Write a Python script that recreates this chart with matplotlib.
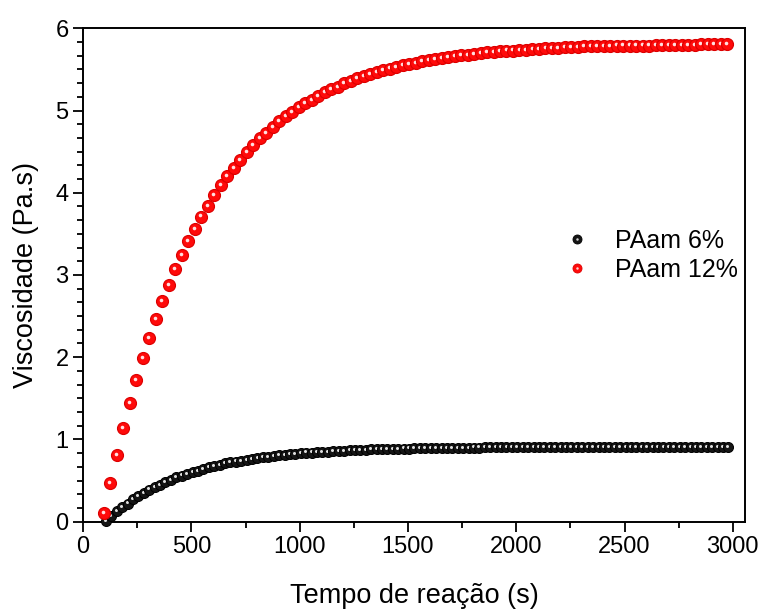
import matplotlib.pyplot as plt
import matplotlib.transforms as mtransforms
from matplotlib.lines import Line2D
from matplotlib.legend_handler import HandlerTuple
from matplotlib.ticker import AutoMinorLocator, MultipleLocator

plt.rcParams['font.family'] = ['Liberation Sans', 'DejaVu Sans']

# PAam 12% : one reading every 30 s
t_12 = [95 + 30 * i for i in range(97)]
v_12 = [0.10, 0.47, 0.81, 1.14, 1.44, 1.72, 1.99, 2.23, 2.46, 2.68,
        2.88, 3.07, 3.24, 3.41, 3.56, 3.71, 3.84, 3.97, 4.09, 4.20,
        4.30, 4.40, 4.49, 4.58, 4.66, 4.73, 4.80, 4.87, 4.93, 4.98,
        5.04, 5.09, 5.13, 5.18, 5.22, 5.26, 5.29, 5.33, 5.36, 5.39,
        5.42, 5.44, 5.47, 5.49, 5.51, 5.53, 5.55, 5.57, 5.58, 5.60,
        5.61, 5.63, 5.64, 5.65, 5.66, 5.67, 5.68, 5.69, 5.70, 5.71,
        5.71, 5.72, 5.73, 5.73, 5.74, 5.74, 5.75, 5.75, 5.76, 5.76,
        5.76, 5.77, 5.77, 5.77, 5.78, 5.78, 5.78, 5.78, 5.78, 5.79,
        5.79, 5.79, 5.79, 5.79, 5.79, 5.80, 5.80, 5.80, 5.80, 5.80,
        5.80, 5.80, 5.81, 5.81, 5.81, 5.81, 5.81]

# PAam 6% : one reading every 25 s
t_6 = [105 + 25 * j for j in range(116)]
v_6 = [0.01, 0.07, 0.13, 0.18, 0.22, 0.27, 0.31, 0.35, 0.39, 0.42,
       0.45, 0.48, 0.51, 0.54, 0.56, 0.58, 0.60, 0.62, 0.64, 0.66,
       0.68, 0.69, 0.71, 0.72, 0.73, 0.74, 0.75, 0.76, 0.77, 0.78,
       0.79, 0.80, 0.81, 0.81, 0.82, 0.82, 0.83, 0.84, 0.84, 0.85,
       0.85, 0.85, 0.86, 0.86, 0.86, 0.87, 0.87, 0.87, 0.87, 0.88,
       0.88, 0.881, 0.883, 0.885, 0.886, 0.888, 0.889, 0.891, 0.892, 0.893,
       0.894, 0.895, 0.896, 0.897, 0.898, 0.899, 0.899, 0.900, 0.901, 0.901,
       0.902, 0.903, 0.903, 0.904, 0.904, 0.905, 0.905, 0.906, 0.906, 0.906,
       0.907, 0.907, 0.907, 0.908, 0.908, 0.908, 0.908, 0.908, 0.909, 0.909,
       0.909, 0.909, 0.909, 0.909, 0.909, 0.909, 0.909, 0.909, 0.909, 0.909,
       0.91, 0.91, 0.91, 0.91, 0.91, 0.91, 0.91, 0.91, 0.91, 0.91,
       0.91, 0.91, 0.91, 0.91, 0.91, 0.91]

labels = ['PAam 6%', 'PAam 12%']


def balls(ax, x, y, color, shade, light, size):
    # shaded sphere look, drawn ball by ball so later ones sit on earlier ones
    off = mtransforms.offset_copy(ax.transData, fig=ax.figure, x=-0.7, y=0.8, units='points')
    for xi, yi in zip(x, y):
        ax.plot(xi, yi, 'o', ms=size, mfc=color, mec=shade, mew=size * 0.1,
                zorder=3, clip_on=False)
        ax.plot(xi, yi, 'o', ms=size * 0.3, mfc=light, mec='none',
                zorder=3, transform=off, clip_on=False)


fig = plt.figure(figsize=(7.63, 6.09), dpi=100)
ax = fig.add_axes([0.109, 0.1435, 0.867, 0.81])

balls(ax, t_6, v_6, '#151515', '#000000', '#e0e0e0', 7.2)
balls(ax, t_12, v_12, '#ff0a0a', '#dd0000', '#ffe0e0', 8.6)

ax.set_xlim(0, 3055)
ax.set_ylim(0, 6)
ax.xaxis.set_major_locator(MultipleLocator(500))
ax.xaxis.set_minor_locator(AutoMinorLocator(2))
ax.yaxis.set_major_locator(MultipleLocator(1))
ax.yaxis.set_minor_locator(AutoMinorLocator(6))
ax.tick_params(which='major', direction='out', length=7, width=1.3, labelsize=17)
ax.tick_params(which='minor', direction='out', length=4, width=1.3)
for sp in ax.spines.values():
    sp.set_linewidth(1.4)

ax.set_xlabel('Tempo de reação (s)', fontsize=19.5, labelpad=18)
ax.set_ylabel('Viscosidade (Pa.s)', fontsize=19.5, labelpad=12)

h6 = (Line2D([], [], ls='none', marker='o', ms=6.5, mfc='#151515', mec='#000000', mew=0.6),
      Line2D([], [], ls='none', marker='o', ms=1.8, mfc='#d0d0d0', mec='none'))
h12 = (Line2D([], [], ls='none', marker='o', ms=6.5, mfc='#ff0a0a', mec='#dd0000', mew=0.6),
       Line2D([], [], ls='none', marker='o', ms=1.8, mfc='#ffd0d0', mec='none'))
ax.legend([h6, h12], labels, handler_map={tuple: HandlerTuple(ndivide=1)},
          loc='center left', bbox_to_anchor=(0.694, 0.539), frameon=False,
          fontsize=18, handletextpad=1.0, labelspacing=0.2, handlelength=1.0)

fig.savefig('out.png', dpi=100)
